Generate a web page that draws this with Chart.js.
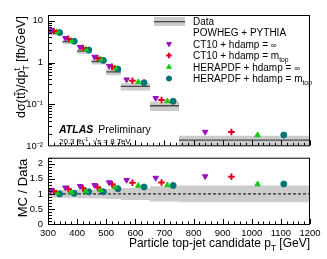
<!DOCTYPE html>
<html>
<head>
<meta charset="utf-8">
<script src="https://cdn.jsdelivr.net/npm/chart.js@4.4.0/dist/chart.umd.min.js"></script>
<style>
  html, body { margin: 0; padding: 0; background: #fff; }
  #wrap { position: relative; width: 327px; height: 259px; overflow: hidden; }
  #topChart { position: absolute; left: 0; top: 0; }
  #ratioChart { position: absolute; left: 0; top: 147px; }
</style>
</head>
<body>
<div id="wrap">
  <canvas id="topChart" width="327" height="157"></canvas>
  <canvas id="ratioChart" width="327" height="112"></canvas>
</div>
<script>
// ===== Data =====
const binEdges = [300, 350, 400, 450, 500, 550, 650, 750, 1200];
const dataValues = [5.2, 3.17, 1.87, 1.06, 0.6, 0.269, 0.093, 0.014];
const dataRelUnc = [0.13, 0.13, 0.14, 0.15, 0.17, 0.2, 0.25, 0.28];

// MC predictions, cross section [fb/GeV]
const ct10InfValues = [5.88, 3.84, 2.36, 1.37, 0.83, 0.393, 0.142, 0.0221];
const ct10MtopValues = [5.67, 3.68, 2.23, 1.29, 0.79, 0.369, 0.128, 0.022];
const heraInfValues = [5.36, 3.33, 2.06, 1.2, 0.74, 0.342, 0.12, 0.0185];
const heraMtopValues = [5.2, 3.23, 2.0, 1.13, 0.7, 0.331, 0.119, 0.0186];

// MC / Data
const ct10InfRatio = [1.13, 1.21, 1.26, 1.29, 1.38, 1.46, 1.53, 1.58];
const ct10MtopRatio = [1.09, 1.16, 1.19, 1.22, 1.32, 1.37, 1.38, 1.57];
const heraInfRatio = [1.03, 1.05, 1.1, 1.13, 1.23, 1.27, 1.29, 1.32];
const heraMtopRatio = [1.0, 1.02, 1.07, 1.07, 1.17, 1.23, 1.28, 1.33];

// Axis ticks
const xTickValues = [300, 400, 500, 600, 700, 800, 900, 1000, 1100, 1200];
const topYTicks = [0.01, 0.1, 1, 10];
const topYTickLabels = ["10\u207B\u00B2", "10\u207B\u00B9", "1", "10"];
const ratioYTicks = [0, 0.5, 1, 1.5, 2];
const ratioYTickLabels = ["0", "0.5", "1", "1.5", "2"];

// ===== Styling =====
const FONT = "'Liberation Sans', Arial, Helvetica, sans-serif";
const BAND = "#cccccc";
const DATA_LINE = "#474747";
const series = [
  { label: "CT10 + hdamp = ", tail: [{ t: "\u221E", scale: 0.8 }], top: ct10InfValues, ratio: ct10InfRatio,
    style: { pointStyle: "triangle", rotation: 180, pointRadius: 3.2, color: "#9b0fc0", borderWidth: 1 }, offset: 0.2 },
  { label: "CT10 + hdamp = m", tail: [{ t: "top", sub: true }], top: ct10MtopValues, ratio: ct10MtopRatio,
    style: { pointStyle: "cross", rotation: 0, pointRadius: 3.3, color: "#e3001a", borderWidth: 2 }, offset: 0.4 },
  { label: "HERAPDF + hdamp = ", tail: [{ t: "\u221E", scale: 0.8 }], top: heraInfValues, ratio: heraInfRatio,
    style: { pointStyle: "triangle", rotation: 0, pointRadius: 3.2, color: "#14cc14", borderWidth: 1 }, offset: 0.6 },
  { label: "HERAPDF + hdamp = m", tail: [{ t: "top", sub: true }], top: heraMtopValues, ratio: heraMtopRatio,
    style: { pointStyle: "circle", rotation: 0, pointRadius: 3, color: "#007575", borderWidth: 1 }, offset: 0.8 },
];

const nBins = dataValues.length;

function stepPoints(values) {
  // one point per bin edge, last value repeated at the upper edge
  return binEdges.map((x, i) => ({ x, y: values[Math.min(i, nBins - 1)] }));
}

function binLines(values) {
  const pts = [];
  values.forEach((v, i) => {
    pts.push({ x: binEdges[i], y: v }, { x: binEdges[i + 1], y: v }, { x: binEdges[i + 1], y: null });
  });
  return pts;
}

function markerDataset(s, values) {
  return {
    label: s.label,
    data: values.map((v, i) => ({ x: binEdges[i] + s.offset * (binEdges[i + 1] - binEdges[i]), y: v })),
    showLine: false,
    pointStyle: s.style.pointStyle,
    rotation: s.style.rotation,
    pointRadius: s.style.pointRadius,
    pointBackgroundColor: s.style.color,
    pointBorderColor: s.style.color,
    pointBorderWidth: s.style.borderWidth,
    order: 0,
  };
}

function bandDatasets(lo, hi) {
  return [
    { data: stepPoints(hi), stepped: true, borderWidth: 0, pointRadius: 0, fill: false, order: 10 },
    { data: stepPoints(lo), stepped: true, borderWidth: 0, pointRadius: 0, fill: "-1", backgroundColor: BAND, order: 10 },
  ];
}

function fixAxis(size) {
  return (scale) => {
    if (scale.isHorizontal()) scale.height = size;
    else scale.width = size;
  };
}

// ===== Text helpers (sub/superscripts) =====
function setFont(ctx, size, style) {
  ctx.font = `${style || ""} ${size}px ${FONT}`;
}

function partWidth(ctx, p, size) {
  if (p.stack) {
    setFont(ctx, size * 0.68);
    return Math.max(ctx.measureText(p.sup).width, ctx.measureText(p.sub).width);
  }
  setFont(ctx, size * (p.sub || p.sup ? 0.68 : p.scale || 1), p.style);
  return ctx.measureText(p.t).width;
}

function richWidth(ctx, parts, size) {
  return parts.reduce((w, p) => w + partWidth(ctx, p, size), 0);
}

function drawRich(ctx, parts, x, y, size) {
  let cx = x;
  parts.forEach((p) => {
    const w = partWidth(ctx, p, size);
    if (p.stack) {
      setFont(ctx, size * 0.68);
      ctx.fillText(p.sup, cx, y - size * 0.42);
      ctx.fillText(p.sub, cx, y + size * 0.32);
    } else {
      setFont(ctx, size * (p.sub || p.sup ? 0.68 : p.scale || 1), p.style);
      const dy = p.sub ? size * 0.32 : p.sup ? -size * 0.42 : 0;
      ctx.fillText(p.t, cx, y + dy);
      if (p.over) {
        ctx.fillRect(cx, y - size * 0.86, w, 1);
      }
    }
    cx += w;
  });
  return cx;
}

// ===== Frame + inward ticks, ROOT style =====
function drawFrame(chart, yMarks) {
  const { ctx, chartArea: a } = chart;
  const xs = chart.scales.x;
  const ys = chart.scales.y;
  ctx.save();
  ctx.strokeStyle = "#000";
  ctx.lineWidth = 1;
  ctx.strokeRect(a.left + 0.5, a.top + 0.5, a.right - a.left - 1, a.bottom - a.top - 1);
  ctx.beginPath();
  for (let v = binEdges[0]; v <= binEdges[nBins]; v += 20) {
    const px = Math.round(xs.getPixelForValue(v)) + 0.5;
    const len = v % 100 === 0 ? 5 : 2.5;
    ctx.moveTo(px, a.bottom - 1);
    ctx.lineTo(px, a.bottom - 1 - len);
  }
  yMarks.forEach(([v, major]) => {
    const py = Math.round(ys.getPixelForValue(v)) + 0.5;
    if (py < a.top || py > a.bottom) return;
    ctx.moveTo(a.left + 1, py);
    ctx.lineTo(a.left + 1 + (major ? 6 : 3), py);
  });
  ctx.stroke();
  ctx.restore();
}

const logMarks = [];
for (let d = -2; d <= 1; d++) {
  for (let k = 1; k <= 9; k++) logMarks.push([k * Math.pow(10, d), k === 1]);
}
const ratioMarks = [];
for (let i = 0; i <= 22; i++) ratioMarks.push([i / 10, i % 5 === 0]);

// ===== Top panel =====
const topBandLo = dataValues.map((v, i) => v * (1 - dataRelUnc[i]));
const topBandHi = dataValues.map((v, i) => v * (1 + dataRelUnc[i]));

const topDecor = {
  id: "topDecor",
  afterDatasetsDraw(chart) {
    drawFrame(chart, logMarks);
  },
  afterDraw(chart) {
    const ctx = chart.ctx;
    ctx.save();
    ctx.fillStyle = "#000";
    ctx.textBaseline = "alphabetic";

    // y title, rotated
    const title = [
      { t: "d\u03C3(t" }, { t: "t", over: true }, { t: ")/dp" },
      { stack: true, sup: "t", sub: "T" }, { t: " [fb/GeV]" },
    ];
    const ts = 12.5;
    const tw = richWidth(ctx, title, ts);
    ctx.translate(25, 67);
    ctx.rotate(-Math.PI / 2);
    drawRich(ctx, title, -tw / 2, 0, ts);
    ctx.setTransform(1, 0, 0, 1, 0, 0);

    // ATLAS label
    setFont(ctx, 10.5, "italic bold");
    ctx.fillText("ATLAS", 59, 133);
    const aw = ctx.measureText("ATLAS").width;
    setFont(ctx, 10.5);
    ctx.fillText("Preliminary", 59 + aw + 5, 133);
    drawRich(ctx, [
      { t: "20.3 fb" }, { t: "-1", sup: true },
      { t: ", \u221As = 8 TeV" },
    ], 59, 144, 8);

    // legend
    const lx = 193;
    const rows = [21.5, 32.5, 44, 55.5, 67, 78.5];
    ctx.fillStyle = BAND;
    ctx.fillRect(154, 17, 31, 9);
    ctx.fillStyle = DATA_LINE;
    ctx.fillRect(154, 21, 31, 1.3);
    ctx.fillStyle = "#000";
    const ls = 10;
    drawRich(ctx, [{ t: "Data" }], lx, rows[0] + 3.5, ls);
    drawRich(ctx, [{ t: "POWHEG + PYTHIA" }], lx, rows[1] + 3.5, ls);
    series.forEach((s, i) => {
      const y = rows[i + 2];
      ctx.fillStyle = s.style.color;
      ctx.strokeStyle = s.style.color;
      ctx.lineWidth = s.style.borderWidth;
      Chart.helpers.drawPoint(ctx, {
        pointStyle: s.style.pointStyle,
        rotation: s.style.rotation,
        radius: s.style.pointRadius * 0.85,
        borderWidth: s.style.borderWidth,
      }, 169, y);
      ctx.fillStyle = "#000";
      drawRich(ctx, [{ t: s.label }].concat(s.tail), lx, y + 3.5, ls);
    });
    ctx.restore();
  },
};

new Chart(document.getElementById("topChart"), {
  type: "line",
  data: {
    datasets: [
      ...bandDatasets(topBandLo, topBandHi),
      { data: binLines(dataValues), borderColor: DATA_LINE, borderWidth: 1.3, pointRadius: 0, spanGaps: false, order: 5 },
      ...series.map((s) => markerDataset(s, s.top)),
    ],
  },
  options: {
    responsive: false,
    animation: false,
    devicePixelRatio: 1,
    events: [],
    layout: { padding: { left: 0, right: 17, top: 15, bottom: 0 } },
    plugins: { legend: { display: false }, tooltip: { enabled: false } },
    scales: {
      x: { type: "linear", min: binEdges[0], max: binEdges[nBins], display: false },
      y: {
        type: "logarithmic",
        min: 0.01,
        max: 13.7,
        grid: { display: false, drawTicks: false },
        border: { display: false },
        afterBuildTicks: (scale) => { scale.ticks = topYTicks.map((v) => ({ value: v })); },
        afterFit: fixAxis(48),
        ticks: {
          color: "#000",
          padding: 5,
          font: { family: FONT, size: 9.5 },
          callback: (v, i) => topYTickLabels[i],
        },
      },
    },
  },
  plugins: [topDecor],
});

// ===== Ratio panel =====
const ratioBandLo = dataRelUnc.map((u) => 1 - u);
const ratioBandHi = dataRelUnc.map((u) => 1 + u);

const ratioDecor = {
  id: "ratioDecor",
  afterDatasetsDraw(chart) {
    drawFrame(chart, ratioMarks);
  },
  afterDraw(chart) {
    const ctx = chart.ctx;
    ctx.save();
    ctx.fillStyle = "#000";
    // y title
    setFont(ctx, 13);
    ctx.textAlign = "center";
    ctx.translate(27, 41);
    ctx.rotate(-Math.PI / 2);
    ctx.fillText("MC / Data", 0, 0);
    ctx.setTransform(1, 0, 0, 1, 0, 0);
    ctx.textAlign = "left";
    // x title, right aligned to the frame
    const xt = [{ t: "Particle top-jet candidate p" }, { t: "T", sub: true }, { t: " [GeV]" }];
    const xs = 12;
    const xw = richWidth(ctx, xt, xs);
    drawRich(ctx, xt, chart.chartArea.right - xw, 100, xs);
    ctx.restore();
  },
};

new Chart(document.getElementById("ratioChart"), {
  type: "line",
  data: {
    datasets: [
      ...bandDatasets(ratioBandLo, ratioBandHi),
      {
        data: [{ x: binEdges[0], y: 1 }, { x: binEdges[nBins], y: 1 }],
        borderColor: "#000", borderWidth: 1, borderDash: [3, 2], pointRadius: 0, order: 5,
      },
      ...series.map((s) => markerDataset(s, s.ratio)),
    ],
  },
  options: {
    responsive: false,
    animation: false,
    devicePixelRatio: 1,
    events: [],
    layout: { padding: { left: 0, right: 17, top: 0, bottom: 0 } },
    plugins: { legend: { display: false }, tooltip: { enabled: false } },
    scales: {
      x: {
        type: "linear",
        min: binEdges[0],
        max: binEdges[nBins],
        grid: { display: false, drawTicks: false },
        border: { display: false },
        afterBuildTicks: (scale) => { scale.ticks = xTickValues.map((v) => ({ value: v })); },
        afterFit: fixAxis(34),
        ticks: {
          color: "#000",
          padding: 3,
          maxRotation: 0,
          autoSkip: false,
          font: { family: FONT, size: 9.5 },
          callback: (v, i) => String(xTickValues[i]),
        },
      },
      y: {
        type: "linear",
        min: -0.03,
        max: 2.2,
        grid: { display: false, drawTicks: false },
        border: { display: false },
        afterBuildTicks: (scale) => { scale.ticks = ratioYTicks.map((v) => ({ value: v })); },
        afterFit: fixAxis(48),
        ticks: {
          color: "#000",
          padding: 5,
          font: { family: FONT, size: 9.5 },
          callback: (v, i) => ratioYTickLabels[i],
        },
      },
    },
  },
  plugins: [ratioDecor],
});
</script>
</body>
</html>
